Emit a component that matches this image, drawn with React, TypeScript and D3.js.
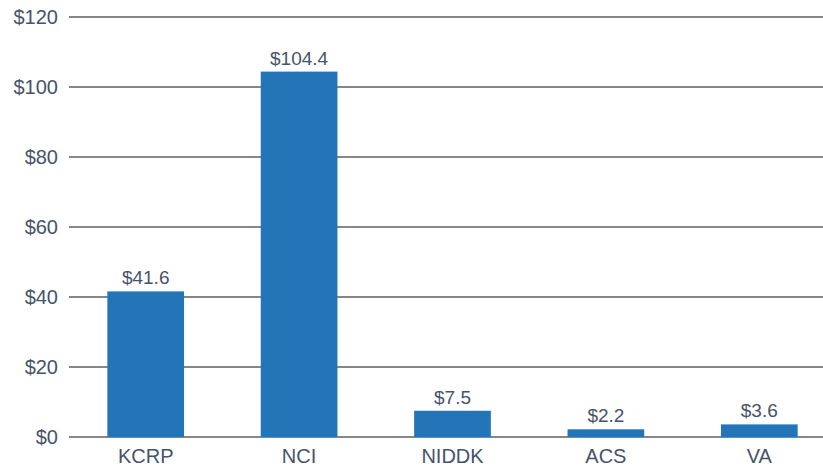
import React, { useEffect, useRef } from "react";
import * as d3 from "d3";

// funding by organization, millions of dollars
const categories = ["KCRP", "NCI", "NIDDK", "ACS", "VA"];
const values = [41.6, 104.4, 7.5, 2.2, 3.6];
const yTicks = [0, 20, 40, 60, 80, 100, 120];

const App = () => {
  const svgRef = useRef<SVGSVGElement>(null);

  useEffect(() => {
    const svg = d3.select(svgRef.current);
    svg.selectAll("*").remove();

    const svgWidth = 823;
    const svgHeight = 468;
    const left = 69;
    const top = 17;
    const bottom = 437;
    const textColor = "#44546a";
    const font = "'Liberation Sans', Arial, sans-serif";

    const x = d3
      .scaleBand()
      .domain(categories)
      .range([left, 836])
      .paddingInner(0.5)
      .paddingOuter(0.25);
    const y = d3.scaleLinear().domain([0, 120]).range([bottom, top]);

    // gridlines
    svg
      .append("g")
      .selectAll("line")
      .data(yTicks)
      .enter()
      .append("line")
      .attr("x1", left)
      .attr("x2", svgWidth)
      .attr("y1", (d) => y(d))
      .attr("y2", (d) => y(d))
      .attr("stroke", "#5f5f5f")
      .attr("stroke-width", 1.5);

    // y tick labels
    svg
      .append("g")
      .selectAll("text")
      .data(yTicks)
      .enter()
      .append("text")
      .attr("x", 58)
      .attr("y", (d) => y(d))
      .attr("dy", "0.35em")
      .attr("text-anchor", "end")
      .attr("fill", textColor)
      .style("font-family", font)
      .style("font-size", "20px")
      .text((d) => `$${d}`);

    const data = categories.map((c, i) => ({ c, v: values[i] }));

    // bars
    svg
      .append("g")
      .selectAll("rect")
      .data(data)
      .enter()
      .append("rect")
      .attr("x", (d) => x(d.c)!)
      .attr("width", x.bandwidth())
      .attr("y", (d) => y(d.v))
      .attr("height", (d) => bottom - y(d.v))
      .attr("fill", "#2474b8");

    // value labels
    svg
      .append("g")
      .selectAll("text")
      .data(data)
      .enter()
      .append("text")
      .attr("x", (d) => x(d.c)! + x.bandwidth() / 2)
      .attr("y", (d) => y(d.v) - 7)
      .attr("text-anchor", "middle")
      .attr("fill", textColor)
      .style("font-family", font)
      .style("font-size", "19px")
      .text((d) => `$${d.v}`);

    // category labels
    svg
      .append("g")
      .selectAll("text")
      .data(categories)
      .enter()
      .append("text")
      .attr("x", (d) => x(d)! + x.bandwidth() / 2)
      .attr("y", 463)
      .attr("text-anchor", "middle")
      .attr("fill", textColor)
      .style("font-family", font)
      .style("font-size", "20px")
      .text((d) => d);

    svg.attr("width", svgWidth).attr("height", svgHeight);
  }, []);

  return (
    <svg
      ref={svgRef}
      width={823}
      height={468}
      style={{ position: "absolute", left: 0, top: 0, background: "#fff" }}
    ></svg>
  );
};

export default App;
